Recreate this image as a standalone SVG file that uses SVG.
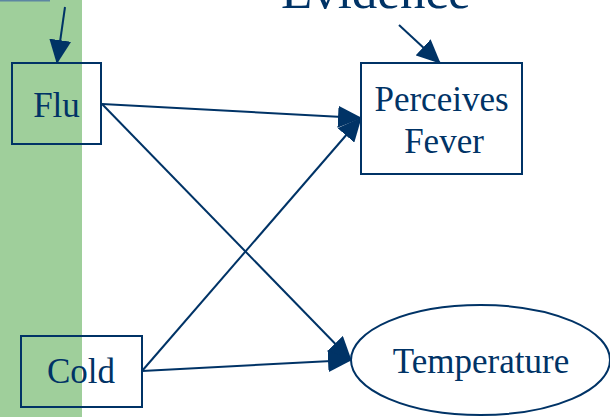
<svg xmlns="http://www.w3.org/2000/svg" width="610" height="417" viewBox="0 0 610 417">
  <style>
    .node { fill: none; stroke: #003366; stroke-width: 2; }
    .label { font-family: "Liberation Serif", "Times New Roman", serif; font-size: 35px; fill: #003366; text-anchor: middle; }
    .edge { stroke: #003366; stroke-width: 2; fill: none; marker-end: url(#head); }
  </style>
  <defs>
    <marker id="head" viewBox="0 0 24 22" markerWidth="24" markerHeight="22" refX="23" refY="11" orient="auto" markerUnits="userSpaceOnUse">
      <path d="M0,0 L24,11 L0,22 Z" fill="#003366"/>
    </marker>
  </defs>

  <!-- background band -->
  <rect x="0" y="0" width="82" height="417" fill="#9fcf9b"/>
  <line x1="0" y1="0.8" x2="50" y2="0.8" stroke="#5d86a2" stroke-width="1.6"/>

  <!-- heading, clipped at the top edge -->
  <text x="281" y="8" font-family="Liberation Serif, serif" font-size="51" fill="#003366">Evidence</text>

  <g id="connectors">
    <line class="edge" x1="65" y1="7" x2="57" y2="63"/>
    <line class="edge" x1="399" y1="25" x2="440" y2="63"/>
    <line class="edge" x1="102" y1="104" x2="361" y2="118"/>
    <line class="edge" x1="102" y1="104" x2="351" y2="360"/>
    <line class="edge" x1="142" y1="371" x2="361" y2="118"/>
    <line class="edge" x1="142" y1="371" x2="351" y2="360"/>
  </g>

  <g id="flu">
    <rect class="node" x="12" y="63" width="89" height="81"/>
    <text class="label" x="56.5" y="117">Flu</text>
  </g>

  <g id="perceives-fever">
    <rect class="node" x="361" y="63" width="161" height="111"/>
    <text class="label" x="441.5" y="111">Perceives</text>
    <text class="label" x="444" y="153">Fever</text>
  </g>

  <g id="cold">
    <rect class="node" x="21" y="336" width="121" height="71"/>
    <text class="label" x="81" y="383">Cold</text>
  </g>

  <g id="temperature">
    <ellipse class="node" cx="480.5" cy="360" rx="129.5" ry="55"/>
    <text class="label" x="481" y="373">Temperature</text>
  </g>
</svg>
